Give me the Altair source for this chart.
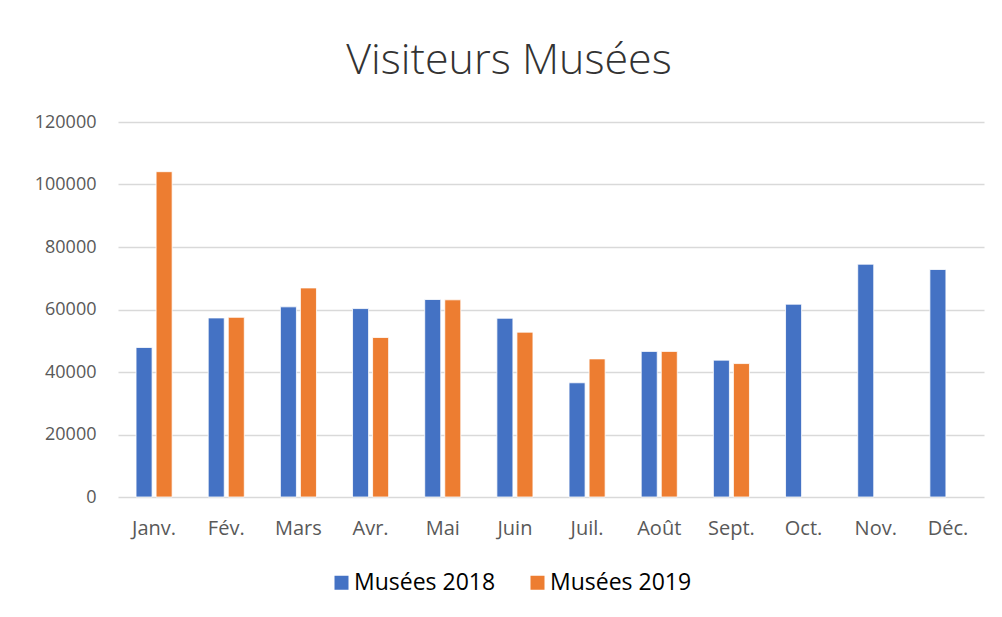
import altair as alt
import pandas as pd

months = ["Janv.", "Fév.", "Mars", "Avr.", "Mai", "Juin", "Juil.", "Août", "Sept.", "Oct.", "Nov.", "Déc."]
v2018 = [47850, 57300, 60850, 60300, 63200, 57200, 36550, 46600, 43800, 61700, 74500, 72800]
v2019 = [104100, 57500, 66900, 51050, 63100, 52750, 44200, 46600, 42700, None, None, None]
series = ["Musées 2018", "Musées 2019"]
colors = ["#4472C4", "#ED7D31"]

rows = []
for m, a, b in zip(months, v2018, v2019):
    rows.append({"mois": m, "serie": series[0], "valeur": a})
    if b is not None:
        rows.append({"mois": m, "serie": series[1], "valeur": b})
df = pd.DataFrame(rows)

FONT = "Open Sans"

chart = alt.Chart(df).mark_bar(stroke="white", strokeWidth=0.8).encode(
    x=alt.X("mois:N", sort=months, title=None,
            scale=alt.Scale(paddingInner=0.5, paddingOuter=0.25),
            axis=alt.Axis(labelAngle=0, labelFont=FONT, labelFontSize=20, labelColor="#595959",
                          labelPadding=21, ticks=False, domain=False, grid=False)),
    xOffset=alt.XOffset("serie:N", sort=series,
                        scale=alt.Scale(domain=series, paddingInner=0.2, paddingOuter=0)),
    y=alt.Y("valeur:Q", title=None,
            scale=alt.Scale(domain=[0, 120000], nice=False),
            axis=alt.Axis(values=[0, 20000, 40000, 60000, 80000, 100000, 120000], format="d",
                          labelFont=FONT, labelFontSize=18, labelColor="#595959", labelPadding=22,
                          ticks=False, domain=False, gridColor="#D9D9D9", gridWidth=1.4)),
    color=alt.Color("serie:N", sort=series,
                    scale=alt.Scale(domain=series, range=colors),
                    legend=alt.Legend(title=None, orient="none", direction="horizontal",
                                      legendX=212, legendY=449, symbolType="square",
                                      symbolSize=196, symbolStrokeWidth=0, labelFont=FONT,
                                      labelFontSize=23, labelColor="#000000", columnPadding=30,
                                      labelOffset=1)),
).properties(
    width=866, height=375,
    title=alt.TitleParams("Visiteurs Musées", font=FONT, fontSize=43, fontWeight=300,
                          color="#333333", anchor="middle", offset=30, dx=-42),
    autosize=alt.AutoSizeParams(type="none"),
    padding={"left": 110, "top": 114, "right": 10, "bottom": 110},
    background="white",
).configure_view(strokeWidth=0)

chart.save("out.html", embed_options={"renderer": "svg", "actions": False})
